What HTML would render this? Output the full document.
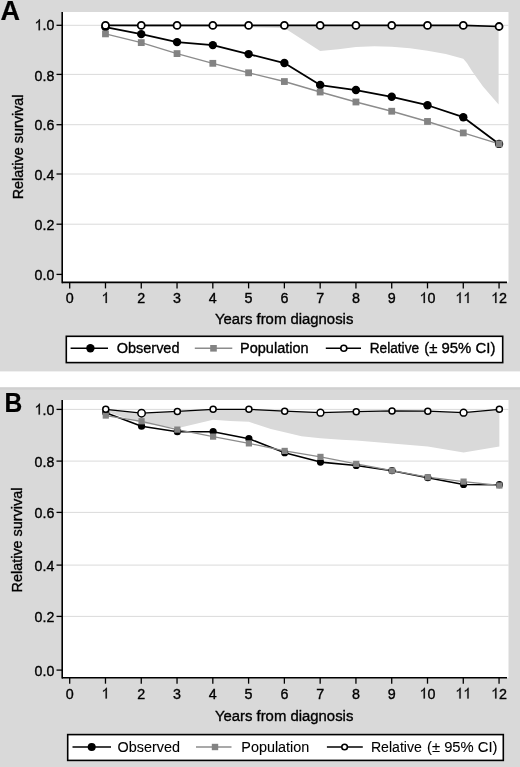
<!DOCTYPE html>
<html><head><meta charset="utf-8"><style>
html,body{margin:0;padding:0;background:#d9d9d9;}
svg{display:block;filter:grayscale(100%);}
text{font-family:"Liberation Sans", sans-serif;fill:#000;stroke:#000;stroke-width:0.35px;}
</style></head><body>
<svg width="520" height="767" viewBox="0 0 520 767">
<rect x="0" y="0" width="520" height="767" fill="#d9d9d9"/>
<rect x="0" y="371.4" width="520" height="16" fill="#ffffff"/>
<rect x="0" y="387.4" width="520" height="2.2" fill="#d0d0d0"/>

<rect x="62" y="12" width="446.5" height="270.4" fill="#ffffff"/>
<line x1="62" y1="224.20" x2="508.5" y2="224.20" stroke="#dadada" stroke-width="1"/>
<line x1="62" y1="174.00" x2="508.5" y2="174.00" stroke="#dadada" stroke-width="1"/>
<line x1="62" y1="124.70" x2="508.5" y2="124.70" stroke="#dadada" stroke-width="1"/>
<line x1="62" y1="74.40" x2="508.5" y2="74.40" stroke="#dadada" stroke-width="1"/>
<line x1="62" y1="25.30" x2="508.5" y2="25.30" stroke="#dadada" stroke-width="1"/>
<polygon points="105.48,25.40 141.26,25.40 177.04,25.40 212.82,25.40 248.60,25.40 284.38,25.40 320.16,25.40 355.94,25.40 391.72,25.40 427.50,25.40 463.28,25.40 498.60,25.40 498.60,104.62 483.00,86.40 472.30,71.60 466.90,62.90 463.28,58.83 445.80,54.00 427.50,50.85 410.00,48.30 391.72,46.86 374.20,46.20 355.94,47.11 338.40,49.20 320.16,51.10 284.38,27.90 248.60,27.02 212.82,27.02 177.04,27.02 141.26,27.02 105.48,25.40" fill="#d9d9d9"/>
<polyline points="105.48,27.15 141.26,34.13 177.04,42.12 212.82,45.11 248.60,54.09 284.38,63.07 320.16,85.03 355.94,90.02 391.72,96.76 427.50,105.24 463.28,117.22 499.06,143.91" fill="none" stroke="#000" stroke-width="1.8" stroke-linejoin="round"/>
<polyline points="105.48,33.88 141.26,42.62 177.04,53.59 212.82,63.32 248.60,72.80 284.38,81.54 320.16,92.02 355.94,102.00 391.72,111.23 427.50,121.46 463.28,132.93 499.06,143.91" fill="none" stroke="#8c8c8c" stroke-width="1.4" stroke-linejoin="round"/>
<circle cx="105.48" cy="27.15" r="4.2" fill="#000"/>
<circle cx="141.26" cy="34.13" r="4.2" fill="#000"/>
<circle cx="177.04" cy="42.12" r="4.2" fill="#000"/>
<circle cx="212.82" cy="45.11" r="4.2" fill="#000"/>
<circle cx="248.60" cy="54.09" r="4.2" fill="#000"/>
<circle cx="284.38" cy="63.07" r="4.2" fill="#000"/>
<circle cx="320.16" cy="85.03" r="4.2" fill="#000"/>
<circle cx="355.94" cy="90.02" r="4.2" fill="#000"/>
<circle cx="391.72" cy="96.76" r="4.2" fill="#000"/>
<circle cx="427.50" cy="105.24" r="4.2" fill="#000"/>
<circle cx="463.28" cy="117.22" r="4.2" fill="#000"/>
<circle cx="499.06" cy="143.91" r="4.2" fill="#000"/>
<rect x="102.08" y="30.48" width="6.8" height="6.8" fill="#838383"/>
<rect x="137.86" y="39.22" width="6.8" height="6.8" fill="#838383"/>
<rect x="173.64" y="50.19" width="6.8" height="6.8" fill="#838383"/>
<rect x="209.42" y="59.92" width="6.8" height="6.8" fill="#838383"/>
<rect x="245.20" y="69.40" width="6.8" height="6.8" fill="#838383"/>
<rect x="280.98" y="78.14" width="6.8" height="6.8" fill="#838383"/>
<rect x="316.76" y="88.62" width="6.8" height="6.8" fill="#838383"/>
<rect x="352.54" y="98.60" width="6.8" height="6.8" fill="#838383"/>
<rect x="388.32" y="107.83" width="6.8" height="6.8" fill="#838383"/>
<rect x="424.10" y="118.06" width="6.8" height="6.8" fill="#838383"/>
<rect x="459.88" y="129.53" width="6.8" height="6.8" fill="#838383"/>
<rect x="495.66" y="140.51" width="6.8" height="6.8" fill="#838383"/>
<polyline points="105.48,25.40 141.26,25.40 177.04,25.40 212.82,25.40 248.60,25.40 284.38,25.40 320.16,25.40 355.94,25.40 391.72,25.40 427.50,25.40 463.28,25.40 499.06,26.50" fill="none" stroke="#000" stroke-width="1.6" stroke-linejoin="round"/>
<circle cx="105.48" cy="25.40" r="3.5" fill="#fff" stroke="#000" stroke-width="1.8"/>
<circle cx="141.26" cy="25.40" r="3.5" fill="#fff" stroke="#000" stroke-width="1.8"/>
<circle cx="177.04" cy="25.40" r="3.5" fill="#fff" stroke="#000" stroke-width="1.8"/>
<circle cx="212.82" cy="25.40" r="3.5" fill="#fff" stroke="#000" stroke-width="1.8"/>
<circle cx="248.60" cy="25.40" r="3.5" fill="#fff" stroke="#000" stroke-width="1.8"/>
<circle cx="284.38" cy="25.40" r="3.5" fill="#fff" stroke="#000" stroke-width="1.8"/>
<circle cx="320.16" cy="25.40" r="3.5" fill="#fff" stroke="#000" stroke-width="1.8"/>
<circle cx="355.94" cy="25.40" r="3.5" fill="#fff" stroke="#000" stroke-width="1.8"/>
<circle cx="391.72" cy="25.40" r="3.5" fill="#fff" stroke="#000" stroke-width="1.8"/>
<circle cx="427.50" cy="25.40" r="3.5" fill="#fff" stroke="#000" stroke-width="1.8"/>
<circle cx="463.28" cy="25.40" r="3.5" fill="#fff" stroke="#000" stroke-width="1.8"/>
<circle cx="499.06" cy="26.50" r="3.5" fill="#fff" stroke="#000" stroke-width="1.8"/>
<line x1="62.2" y1="12" x2="62.2" y2="283.2" stroke="#000" stroke-width="1.6"/>
<line x1="62" y1="282.4" x2="507.0" y2="282.4" stroke="#000" stroke-width="1.6"/>
<line x1="56.5" y1="274.40" x2="62" y2="274.40" stroke="#000" stroke-width="1.3"/>
<text transform="translate(34.56,280.00) scale(1,1.08)" font-size="14.2" text-anchor="start">0.0</text>
<line x1="56.5" y1="224.20" x2="62" y2="224.20" stroke="#000" stroke-width="1.3"/>
<text transform="translate(34.56,230.30) scale(1,1.08)" font-size="14.2" text-anchor="start">0.2</text>
<line x1="56.5" y1="174.00" x2="62" y2="174.00" stroke="#000" stroke-width="1.3"/>
<text transform="translate(34.56,180.30) scale(1,1.08)" font-size="14.2" text-anchor="start">0.4</text>
<line x1="56.5" y1="124.70" x2="62" y2="124.70" stroke="#000" stroke-width="1.3"/>
<text transform="translate(34.56,130.45) scale(1,1.08)" font-size="14.2" text-anchor="start">0.6</text>
<line x1="56.5" y1="74.40" x2="62" y2="74.40" stroke="#000" stroke-width="1.3"/>
<text transform="translate(34.56,80.50) scale(1,1.08)" font-size="14.2" text-anchor="start">0.8</text>
<line x1="56.5" y1="25.30" x2="62" y2="25.30" stroke="#000" stroke-width="1.3"/>
<path d="M39.86,30.30 L38.61,30.30 L38.61,21.71 C 38.11,22.22 37.46,22.72 36.69,23.15 C 36.46,23.28 36.28,23.38 36.11,23.46 L36.11,22.16 C 36.98,21.71 37.86,21.10 38.40,20.48 C 38.82,20.02 39.05,19.63 39.12,19.32 L39.86,19.32 Z" fill="#000" stroke="#000" stroke-width="0.2"/>
<text transform="translate(42.46,30.30) scale(1,1.08)" font-size="14.2" text-anchor="start">.0</text>
<line x1="69.70" y1="282.4" x2="69.70" y2="288.4" stroke="#000" stroke-width="1.3"/>
<text transform="translate(65.72,303.00) scale(1,1.05)" font-size="14.3" text-anchor="start">0</text>
<line x1="105.48" y1="282.4" x2="105.48" y2="288.4" stroke="#000" stroke-width="1.3"/>
<path d="M106.84,303.00 L105.58,303.00 L105.58,294.59 C 105.08,295.09 104.42,295.58 103.65,296.00 C 103.42,296.12 103.23,296.23 103.06,296.30 L103.06,295.03 C 103.94,294.59 104.82,293.99 105.37,293.39 C 105.79,292.94 106.02,292.55 106.09,292.25 L106.84,292.25 Z" fill="#000" stroke="#000" stroke-width="0.2"/>
<line x1="141.26" y1="282.4" x2="141.26" y2="288.4" stroke="#000" stroke-width="1.3"/>
<text transform="translate(137.28,303.00) scale(1,1.05)" font-size="14.3" text-anchor="start">2</text>
<line x1="177.04" y1="282.4" x2="177.04" y2="288.4" stroke="#000" stroke-width="1.3"/>
<text transform="translate(173.06,303.00) scale(1,1.05)" font-size="14.3" text-anchor="start">3</text>
<line x1="212.82" y1="282.4" x2="212.82" y2="288.4" stroke="#000" stroke-width="1.3"/>
<text transform="translate(208.84,303.00) scale(1,1.05)" font-size="14.3" text-anchor="start">4</text>
<line x1="248.60" y1="282.4" x2="248.60" y2="288.4" stroke="#000" stroke-width="1.3"/>
<text transform="translate(244.62,303.00) scale(1,1.05)" font-size="14.3" text-anchor="start">5</text>
<line x1="284.38" y1="282.4" x2="284.38" y2="288.4" stroke="#000" stroke-width="1.3"/>
<text transform="translate(280.40,303.00) scale(1,1.05)" font-size="14.3" text-anchor="start">6</text>
<line x1="320.16" y1="282.4" x2="320.16" y2="288.4" stroke="#000" stroke-width="1.3"/>
<text transform="translate(316.18,303.00) scale(1,1.05)" font-size="14.3" text-anchor="start">7</text>
<line x1="355.94" y1="282.4" x2="355.94" y2="288.4" stroke="#000" stroke-width="1.3"/>
<text transform="translate(351.96,303.00) scale(1,1.05)" font-size="14.3" text-anchor="start">8</text>
<line x1="391.72" y1="282.4" x2="391.72" y2="288.4" stroke="#000" stroke-width="1.3"/>
<text transform="translate(387.74,303.00) scale(1,1.05)" font-size="14.3" text-anchor="start">9</text>
<line x1="427.50" y1="282.4" x2="427.50" y2="288.4" stroke="#000" stroke-width="1.3"/>
<path d="M424.88,303.00 L423.62,303.00 L423.62,294.59 C 423.12,295.09 422.47,295.58 421.69,296.00 C 421.47,296.12 421.28,296.23 421.11,296.30 L421.11,295.03 C 421.98,294.59 422.87,293.99 423.41,293.39 C 423.84,292.94 424.07,292.55 424.14,292.25 L424.88,292.25 Z" fill="#000" stroke="#000" stroke-width="0.2"/>
<text transform="translate(427.50,303.00) scale(1,1.05)" font-size="14.3" text-anchor="start">0</text>
<line x1="463.28" y1="282.4" x2="463.28" y2="288.4" stroke="#000" stroke-width="1.3"/>
<path d="M460.66,303.00 L459.40,303.00 L459.40,294.59 C 458.90,295.09 458.25,295.58 457.47,296.00 C 457.25,296.12 457.06,296.23 456.89,296.30 L456.89,295.03 C 457.76,294.59 458.65,293.99 459.19,293.39 C 459.62,292.94 459.85,292.55 459.92,292.25 L460.66,292.25 Z" fill="#000" stroke="#000" stroke-width="0.2"/>
<path d="M468.61,303.00 L467.36,303.00 L467.36,294.59 C 466.86,295.09 466.20,295.58 465.43,296.00 C 465.20,296.12 465.01,296.23 464.84,296.30 L464.84,295.03 C 465.71,294.59 466.60,293.99 467.14,293.39 C 467.57,292.94 467.80,292.55 467.87,292.25 L468.61,292.25 Z" fill="#000" stroke="#000" stroke-width="0.2"/>
<line x1="499.06" y1="282.4" x2="499.06" y2="288.4" stroke="#000" stroke-width="1.3"/>
<path d="M496.44,303.00 L495.18,303.00 L495.18,294.59 C 494.68,295.09 494.03,295.58 493.25,296.00 C 493.03,296.12 492.84,296.23 492.67,296.30 L492.67,295.03 C 493.54,294.59 494.43,293.99 494.97,293.39 C 495.40,292.94 495.63,292.55 495.70,292.25 L496.44,292.25 Z" fill="#000" stroke="#000" stroke-width="0.2"/>
<text transform="translate(499.06,303.00) scale(1,1.05)" font-size="14.3" text-anchor="start">2</text>
<text transform="translate(284.10,324.10) scale(1,1.03)" font-size="14.9" text-anchor="middle">Years from diagnosis</text>
<text transform="translate(23.2,146.90) rotate(-90) scale(1,1.03)" font-size="14.4" text-anchor="middle">Relative survival</text>
<text transform="translate(0.5,19.5) scale(1.0,1)" font-size="27" font-weight="bold" style="stroke-width:0.2px">A</text>
<rect x="66.3" y="336.3" width="436.4" height="26.30000000000001" fill="#fff" stroke="#000" stroke-width="1.6"/>
<line x1="70.6" y1="348.3" x2="108" y2="348.3" stroke="#000" stroke-width="1.6"/>
<circle cx="90.4" cy="348.3" r="4.2" fill="#000"/>
<text transform="translate(116.70,352.80) scale(1,1.02)" font-size="14.5" text-anchor="start" style="stroke-width:0.35px">Observed</text>
<line x1="194.8" y1="348.3" x2="232.3" y2="348.3" stroke="#8c8c8c" stroke-width="1.4"/>
<rect x="210.2" y="345.0" width="6.6" height="6.6" fill="#838383"/>
<text transform="translate(240.10,352.80) scale(1,1.02)" font-size="14.5" text-anchor="start" style="stroke-width:0.35px">Population</text>
<line x1="325.8" y1="348.3" x2="361" y2="348.3" stroke="#000" stroke-width="1.6"/>
<circle cx="343.8" cy="348.3" r="3.0" fill="#fff" stroke="#000" stroke-width="1.6"/>
<text transform="translate(369.70,352.80) scale(0.944,1.02)" font-size="14.5" text-anchor="start" style="stroke-width:0.35px">Relative</text>
<text transform="translate(424.30,352.80) scale(1.028,1.02)" font-size="14.5" text-anchor="start" style="stroke-width:0.35px">(± 95% CI)</text>
<rect x="62" y="400" width="446.5" height="277.70000000000005" fill="#ffffff"/>
<line x1="62" y1="616.40" x2="508.5" y2="616.40" stroke="#dadada" stroke-width="1"/>
<line x1="62" y1="565.10" x2="508.5" y2="565.10" stroke="#dadada" stroke-width="1"/>
<line x1="62" y1="512.40" x2="508.5" y2="512.40" stroke="#dadada" stroke-width="1"/>
<line x1="62" y1="461.10" x2="508.5" y2="461.10" stroke="#dadada" stroke-width="1"/>
<line x1="62" y1="409.40" x2="508.5" y2="409.40" stroke="#dadada" stroke-width="1"/>
<polygon points="105.78,409.32 141.56,413.22 177.34,411.40 213.12,409.32 248.90,409.32 284.68,411.14 320.46,412.70 356.24,411.66 392.02,410.88 427.80,411.14 463.58,412.70 499.36,409.32 499.36,446.50 463.58,452.48 427.80,446.50 392.02,443.38 356.24,440.52 341.50,439.80 320.46,438.31 301.50,436.20 284.68,432.20 270.80,429.00 248.90,421.80 230.00,421.00 213.12,419.72 177.34,428.30 141.56,423.36 105.78,411.40" fill="#d9d9d9"/>
<polyline points="105.78,412.70 141.56,426.22 177.34,431.68 213.12,431.68 248.90,438.70 284.68,452.74 320.46,462.10 356.24,465.48 392.02,470.68 427.80,477.70 463.58,484.46 499.36,484.72" fill="none" stroke="#000" stroke-width="1.6" stroke-linejoin="round"/>
<polyline points="105.78,415.56 141.56,421.28 177.34,429.60 213.12,436.62 248.90,443.38 284.68,450.92 320.46,456.90 356.24,463.92 392.02,470.68 427.80,477.18 463.58,481.60 499.36,485.50" fill="none" stroke="#8c8c8c" stroke-width="1.3" stroke-linejoin="round"/>
<circle cx="105.78" cy="412.70" r="3.6" fill="#000"/>
<circle cx="141.56" cy="426.22" r="3.6" fill="#000"/>
<circle cx="177.34" cy="431.68" r="3.6" fill="#000"/>
<circle cx="213.12" cy="431.68" r="3.6" fill="#000"/>
<circle cx="248.90" cy="438.70" r="3.6" fill="#000"/>
<circle cx="284.68" cy="452.74" r="3.6" fill="#000"/>
<circle cx="320.46" cy="462.10" r="3.6" fill="#000"/>
<circle cx="356.24" cy="465.48" r="3.6" fill="#000"/>
<circle cx="392.02" cy="470.68" r="3.6" fill="#000"/>
<circle cx="427.80" cy="477.70" r="3.6" fill="#000"/>
<circle cx="463.58" cy="484.46" r="3.6" fill="#000"/>
<circle cx="499.36" cy="484.72" r="3.6" fill="#000"/>
<rect x="102.68" y="412.46" width="6.2" height="6.2" fill="#838383"/>
<rect x="138.46" y="418.18" width="6.2" height="6.2" fill="#838383"/>
<rect x="174.24" y="426.50" width="6.2" height="6.2" fill="#838383"/>
<rect x="210.02" y="433.52" width="6.2" height="6.2" fill="#838383"/>
<rect x="245.80" y="440.28" width="6.2" height="6.2" fill="#838383"/>
<rect x="281.58" y="447.82" width="6.2" height="6.2" fill="#838383"/>
<rect x="317.36" y="453.80" width="6.2" height="6.2" fill="#838383"/>
<rect x="353.14" y="460.82" width="6.2" height="6.2" fill="#838383"/>
<rect x="388.92" y="467.58" width="6.2" height="6.2" fill="#838383"/>
<rect x="424.70" y="474.08" width="6.2" height="6.2" fill="#838383"/>
<rect x="460.48" y="478.50" width="6.2" height="6.2" fill="#838383"/>
<rect x="496.26" y="482.40" width="6.2" height="6.2" fill="#838383"/>
<polyline points="105.78,409.32 141.56,413.22 177.34,411.40 213.12,409.32 248.90,409.32 284.68,411.14 320.46,412.70 356.24,411.66 392.02,410.88 427.80,411.14 463.58,412.70 499.36,409.32" fill="none" stroke="#000" stroke-width="1.3" stroke-linejoin="round"/>
<circle cx="105.78" cy="409.32" r="3.0" fill="#fff" stroke="#000" stroke-width="1.5"/>
<circle cx="141.56" cy="413.22" r="3.7" fill="#fff" stroke="#000" stroke-width="1.5"/>
<circle cx="177.34" cy="411.40" r="3.0" fill="#fff" stroke="#000" stroke-width="1.5"/>
<circle cx="213.12" cy="409.32" r="3.0" fill="#fff" stroke="#000" stroke-width="1.5"/>
<circle cx="248.90" cy="409.32" r="3.0" fill="#fff" stroke="#000" stroke-width="1.5"/>
<circle cx="284.68" cy="411.14" r="3.0" fill="#fff" stroke="#000" stroke-width="1.5"/>
<circle cx="320.46" cy="412.70" r="3.4" fill="#fff" stroke="#000" stroke-width="1.5"/>
<circle cx="356.24" cy="411.66" r="3.0" fill="#fff" stroke="#000" stroke-width="1.5"/>
<circle cx="392.02" cy="410.88" r="3.0" fill="#fff" stroke="#000" stroke-width="1.5"/>
<circle cx="427.80" cy="411.14" r="3.0" fill="#fff" stroke="#000" stroke-width="1.5"/>
<circle cx="463.58" cy="412.70" r="3.4" fill="#fff" stroke="#000" stroke-width="1.5"/>
<circle cx="499.36" cy="409.32" r="3.0" fill="#fff" stroke="#000" stroke-width="1.5"/>
<line x1="62.2" y1="400" x2="62.2" y2="678.5" stroke="#000" stroke-width="1.6"/>
<line x1="62" y1="677.7" x2="507.0" y2="677.7" stroke="#000" stroke-width="1.6"/>
<line x1="56.5" y1="670.10" x2="62" y2="670.10" stroke="#000" stroke-width="1.3"/>
<text transform="translate(34.56,675.90) scale(1,1.08)" font-size="14.2" text-anchor="start">0.0</text>
<line x1="56.5" y1="616.40" x2="62" y2="616.40" stroke="#000" stroke-width="1.3"/>
<text transform="translate(34.56,622.20) scale(1,1.08)" font-size="14.2" text-anchor="start">0.2</text>
<line x1="56.5" y1="565.10" x2="62" y2="565.10" stroke="#000" stroke-width="1.3"/>
<text transform="translate(34.56,570.90) scale(1,1.08)" font-size="14.2" text-anchor="start">0.4</text>
<line x1="56.5" y1="512.40" x2="62" y2="512.40" stroke="#000" stroke-width="1.3"/>
<text transform="translate(34.56,518.20) scale(1,1.08)" font-size="14.2" text-anchor="start">0.6</text>
<line x1="56.5" y1="461.10" x2="62" y2="461.10" stroke="#000" stroke-width="1.3"/>
<text transform="translate(34.56,466.90) scale(1,1.08)" font-size="14.2" text-anchor="start">0.8</text>
<line x1="56.5" y1="409.40" x2="62" y2="409.40" stroke="#000" stroke-width="1.3"/>
<path d="M39.86,414.60 L38.61,414.60 L38.61,406.01 C 38.11,406.52 37.46,407.02 36.69,407.45 C 36.46,407.58 36.28,407.68 36.11,407.76 L36.11,406.46 C 36.98,406.01 37.86,405.40 38.40,404.78 C 38.82,404.32 39.05,403.93 39.12,403.62 L39.86,403.62 Z" fill="#000" stroke="#000" stroke-width="0.2"/>
<text transform="translate(42.46,414.60) scale(1,1.08)" font-size="14.2" text-anchor="start">.0</text>
<line x1="69.70" y1="677.7" x2="69.70" y2="683.7" stroke="#000" stroke-width="1.3"/>
<text transform="translate(65.72,698.50) scale(1,1.05)" font-size="14.3" text-anchor="start">0</text>
<line x1="105.48" y1="677.7" x2="105.48" y2="683.7" stroke="#000" stroke-width="1.3"/>
<path d="M106.84,698.50 L105.58,698.50 L105.58,690.09 C 105.08,690.59 104.42,691.08 103.65,691.50 C 103.42,691.62 103.23,691.73 103.06,691.80 L103.06,690.53 C 103.94,690.09 104.82,689.49 105.37,688.89 C 105.79,688.44 106.02,688.05 106.09,687.75 L106.84,687.75 Z" fill="#000" stroke="#000" stroke-width="0.2"/>
<line x1="141.26" y1="677.7" x2="141.26" y2="683.7" stroke="#000" stroke-width="1.3"/>
<text transform="translate(137.28,698.50) scale(1,1.05)" font-size="14.3" text-anchor="start">2</text>
<line x1="177.04" y1="677.7" x2="177.04" y2="683.7" stroke="#000" stroke-width="1.3"/>
<text transform="translate(173.06,698.50) scale(1,1.05)" font-size="14.3" text-anchor="start">3</text>
<line x1="212.82" y1="677.7" x2="212.82" y2="683.7" stroke="#000" stroke-width="1.3"/>
<text transform="translate(208.84,698.50) scale(1,1.05)" font-size="14.3" text-anchor="start">4</text>
<line x1="248.60" y1="677.7" x2="248.60" y2="683.7" stroke="#000" stroke-width="1.3"/>
<text transform="translate(244.62,698.50) scale(1,1.05)" font-size="14.3" text-anchor="start">5</text>
<line x1="284.38" y1="677.7" x2="284.38" y2="683.7" stroke="#000" stroke-width="1.3"/>
<text transform="translate(280.40,698.50) scale(1,1.05)" font-size="14.3" text-anchor="start">6</text>
<line x1="320.16" y1="677.7" x2="320.16" y2="683.7" stroke="#000" stroke-width="1.3"/>
<text transform="translate(316.18,698.50) scale(1,1.05)" font-size="14.3" text-anchor="start">7</text>
<line x1="355.94" y1="677.7" x2="355.94" y2="683.7" stroke="#000" stroke-width="1.3"/>
<text transform="translate(351.96,698.50) scale(1,1.05)" font-size="14.3" text-anchor="start">8</text>
<line x1="391.72" y1="677.7" x2="391.72" y2="683.7" stroke="#000" stroke-width="1.3"/>
<text transform="translate(387.74,698.50) scale(1,1.05)" font-size="14.3" text-anchor="start">9</text>
<line x1="427.50" y1="677.7" x2="427.50" y2="683.7" stroke="#000" stroke-width="1.3"/>
<path d="M424.88,698.50 L423.62,698.50 L423.62,690.09 C 423.12,690.59 422.47,691.08 421.69,691.50 C 421.47,691.62 421.28,691.73 421.11,691.80 L421.11,690.53 C 421.98,690.09 422.87,689.49 423.41,688.89 C 423.84,688.44 424.07,688.05 424.14,687.75 L424.88,687.75 Z" fill="#000" stroke="#000" stroke-width="0.2"/>
<text transform="translate(427.50,698.50) scale(1,1.05)" font-size="14.3" text-anchor="start">0</text>
<line x1="463.28" y1="677.7" x2="463.28" y2="683.7" stroke="#000" stroke-width="1.3"/>
<path d="M460.66,698.50 L459.40,698.50 L459.40,690.09 C 458.90,690.59 458.25,691.08 457.47,691.50 C 457.25,691.62 457.06,691.73 456.89,691.80 L456.89,690.53 C 457.76,690.09 458.65,689.49 459.19,688.89 C 459.62,688.44 459.85,688.05 459.92,687.75 L460.66,687.75 Z" fill="#000" stroke="#000" stroke-width="0.2"/>
<path d="M468.61,698.50 L467.36,698.50 L467.36,690.09 C 466.86,690.59 466.20,691.08 465.43,691.50 C 465.20,691.62 465.01,691.73 464.84,691.80 L464.84,690.53 C 465.71,690.09 466.60,689.49 467.14,688.89 C 467.57,688.44 467.80,688.05 467.87,687.75 L468.61,687.75 Z" fill="#000" stroke="#000" stroke-width="0.2"/>
<line x1="499.06" y1="677.7" x2="499.06" y2="683.7" stroke="#000" stroke-width="1.3"/>
<path d="M496.44,698.50 L495.18,698.50 L495.18,690.09 C 494.68,690.59 494.03,691.08 493.25,691.50 C 493.03,691.62 492.84,691.73 492.67,691.80 L492.67,690.53 C 493.54,690.09 494.43,689.49 494.97,688.89 C 495.40,688.44 495.63,688.05 495.70,687.75 L496.44,687.75 Z" fill="#000" stroke="#000" stroke-width="0.2"/>
<text transform="translate(499.06,698.50) scale(1,1.05)" font-size="14.3" text-anchor="start">2</text>
<text transform="translate(284.10,720.80) scale(1,1.03)" font-size="14.9" text-anchor="middle">Years from diagnosis</text>
<text transform="translate(21.9,540.00) rotate(-90) scale(1,1.03)" font-size="14.4" text-anchor="middle">Relative survival</text>
<text transform="translate(4.4,411.9) scale(0.91,1)" font-size="27" font-weight="bold" style="stroke-width:0.2px">B</text>
<rect x="67.7" y="734.6" width="435.6" height="25.799999999999955" fill="#fff" stroke="#000" stroke-width="1.6"/>
<line x1="72.5" y1="747.0" x2="111" y2="747.0" stroke="#000" stroke-width="1.6"/>
<circle cx="91.7" cy="747.0" r="4.0" fill="#000"/>
<text transform="translate(117.60,751.60) scale(1,0.99)" font-size="14.4" text-anchor="start" style="stroke-width:0.1px">Observed</text>
<line x1="196" y1="747.0" x2="231.5" y2="747.0" stroke="#8c8c8c" stroke-width="1.4"/>
<rect x="211.8" y="743.8" width="6.4" height="6.4" fill="#838383"/>
<text transform="translate(241.30,751.60) scale(1,0.99)" font-size="14.4" text-anchor="start" style="stroke-width:0.1px">Population</text>
<line x1="326.9" y1="747.0" x2="362.8" y2="747.0" stroke="#000" stroke-width="1.6"/>
<circle cx="344.6" cy="747.0" r="2.8" fill="#fff" stroke="#000" stroke-width="1.6"/>
<text transform="translate(370.90,751.60) scale(0.98,0.99)" font-size="14.4" text-anchor="start" style="stroke-width:0.1px">Relative</text>
<text transform="translate(427.00,751.60) scale(1.027,0.99)" font-size="14.4" text-anchor="start" style="stroke-width:0.1px">(± 95% CI)</text>
</svg>
</body></html>
